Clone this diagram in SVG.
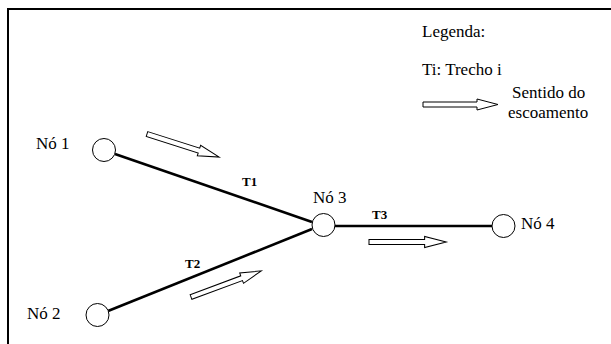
<svg xmlns="http://www.w3.org/2000/svg" width="611" height="344" viewBox="0 0 611 344">
<style>
text{font-family:"Liberation Serif","Times New Roman",serif;fill:#000}
.lbl{font-size:17px}
.tr{font-size:13px;font-weight:bold}
.node{fill:#fff;stroke:#000;stroke-width:1}
.edge{stroke:#000;stroke-width:2.6;fill:none}
.flow{fill:#fff;stroke:#000;stroke-width:1}
</style>
<defs>
<path id="arr" d="M0,-2.5 L54,-2.5 L54,-5.5 L75,0 L54,5.5 L54,2.5 L0,2.5 Z"/>
</defs>
<rect width="611" height="344" fill="#fff"/>
<g id="frame">
<path d="M8,344 L8,9 L611,9" fill="none" stroke="#000" stroke-width="2"/>
</g>
<g id="connectors">
<line class="edge" x1="115" y1="154" x2="312" y2="222"/>
<line class="edge" x1="108" y1="311" x2="312" y2="229"/>
<line class="edge" x1="335" y1="226" x2="492" y2="226"/>
<text class="tr" x="242" y="186">T1</text>
<text class="tr" x="185" y="268">T2</text>
<text class="tr" x="372" y="219">T3</text>
<use href="#arr" class="flow" transform="translate(147,134) rotate(17.7) scale(1.01,1)"/>
<use href="#arr" class="flow" transform="translate(191,297) rotate(-20.4)"/>
<use href="#arr" class="flow" transform="translate(369,242) scale(1.03,1)"/>
</g>
<g id="n1">
<circle class="node" cx="104" cy="150" r="11.5"/>
<text class="lbl" x="36" y="149">Nó 1</text>
</g>
<g id="n2">
<circle class="node" cx="97.5" cy="315" r="11.5"/>
<text class="lbl" x="27" y="319">Nó 2</text>
</g>
<g id="n3">
<circle class="node" cx="323.5" cy="225" r="11.5"/>
<text class="lbl" x="313" y="203">Nó 3</text>
</g>
<g id="n4">
<circle class="node" cx="503.5" cy="226" r="11.5"/>
<text class="lbl" x="521" y="229">Nó 4</text>
</g>
<g id="legend">
<text class="lbl" x="422" y="37">Legenda:</text>
<text class="lbl" x="422" y="75">Ti: Trecho i</text>
<use href="#arr" class="flow" transform="translate(423,104.5)"/>
<text class="lbl" x="512" y="98">Sentido do</text>
<text class="lbl" x="508" y="118">escoamento</text>
</g>
</svg>
